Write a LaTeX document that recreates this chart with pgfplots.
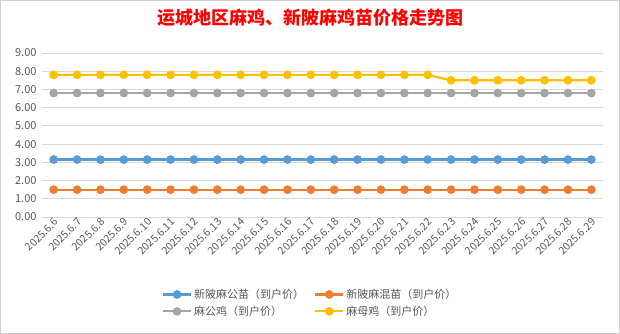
\documentclass[border=0pt]{standalone}
\usepackage{fontspec}
\usepackage{pgfplots}
\pgfplotsset{compat=1.18}
\setmainfont{Noto Sans CJK SC}
\definecolor{cblue}{HTML}{5B9BD5}
\definecolor{corange}{HTML}{ED7D31}
\definecolor{cgray}{HTML}{A5A5A5}
\definecolor{cyellow}{HTML}{FFC000}
\definecolor{gridc}{HTML}{D9D9D9}
\definecolor{textc}{HTML}{595959}
\begin{document}
\begin{tikzpicture}[x=1pt,y=1pt]
\useasboundingbox (0,0) rectangle (620,334);
\draw[fill=white, draw=gray!35] (0.5,0.5) rectangle (619.5,333.5);
\node[text=red, font=\fontsize{18}{20}\selectfont\bfseries] at (310,316) {运城地区麻鸡、新陂麻鸡苗价格走势图};
\begin{axis}[
  at={(42pt,117pt)}, anchor=south west,
  scale only axis, width=561pt, height=164pt,
  xmin=-0.5, xmax=23.5, ymin=0, ymax=9,
  ytick={0,1,...,9},
  xtick={0,1,...,23},
  xticklabels={2025.6.6,2025.6.7,2025.6.8,2025.6.9,2025.6.10,2025.6.11,2025.6.12,2025.6.13,2025.6.14,2025.6.15,2025.6.16,2025.6.17,2025.6.18,2025.6.19,2025.6.20,2025.6.21,2025.6.22,2025.6.23,2025.6.24,2025.6.25,2025.6.26,2025.6.27,2025.6.28,2025.6.29},
  axis line style={draw=none},
  major tick style={draw=none},
  ymajorgrids, grid style={color=gridc, line width=0.8pt},
  /pgf/number format/assume math mode=true,
  /pgf/number format/fixed,
  /pgf/number format/fixed zerofill,
  /pgf/number format/precision=2,
  yticklabel style={font=\fontsize{11}{12}\selectfont, text=textc, xshift=-2pt},
  xticklabel style={rotate=45, anchor=east, font=\fontsize{10.5}{12}\selectfont, text=textc, xshift=3pt, yshift=-4pt},
  every axis plot/.append style={line width=2.2pt, mark=*, mark size=3.2pt},
  legend columns=2,
  legend cell align=left,
  legend style={at={(0.478,-0.524)}, anchor=center, draw=none, fill=none,
    font=\fontsize{11}{12}\selectfont, text=textc,
    /tikz/every even column/.append style={column sep=8pt},
    row sep=2pt},
  legend image code/.code={\draw[#1, mark repeat=2, mark phase=2] plot coordinates {(0pt,0pt) (14pt,0pt) (28pt,0pt)};},
]
\addplot[color=cblue] coordinates {(0,3.15)(1,3.15)(2,3.15)(3,3.15)(4,3.15)(5,3.15)(6,3.15)(7,3.15)(8,3.15)(9,3.15)(10,3.15)(11,3.15)(12,3.15)(13,3.15)(14,3.15)(15,3.15)(16,3.15)(17,3.15)(18,3.15)(19,3.15)(20,3.15)(21,3.15)(22,3.15)(23,3.15)};
\addlegendentry{新陂麻公苗（到户价）}
\addplot[color=corange] coordinates {(0,1.5)(1,1.5)(2,1.5)(3,1.5)(4,1.5)(5,1.5)(6,1.5)(7,1.5)(8,1.5)(9,1.5)(10,1.5)(11,1.5)(12,1.5)(13,1.5)(14,1.5)(15,1.5)(16,1.5)(17,1.5)(18,1.5)(19,1.5)(20,1.5)(21,1.5)(22,1.5)(23,1.5)};
\addlegendentry{新陂麻混苗（到户价）}
\addplot[color=cgray] coordinates {(0,6.8)(1,6.8)(2,6.8)(3,6.8)(4,6.8)(5,6.8)(6,6.8)(7,6.8)(8,6.8)(9,6.8)(10,6.8)(11,6.8)(12,6.8)(13,6.8)(14,6.8)(15,6.8)(16,6.8)(17,6.8)(18,6.8)(19,6.8)(20,6.8)(21,6.8)(22,6.8)(23,6.8)};
\addlegendentry{麻公鸡（到户价）}
\addplot[color=cyellow] coordinates {(0,7.8)(1,7.8)(2,7.8)(3,7.8)(4,7.8)(5,7.8)(6,7.8)(7,7.8)(8,7.8)(9,7.8)(10,7.8)(11,7.8)(12,7.8)(13,7.8)(14,7.8)(15,7.8)(16,7.8)(17,7.5)(18,7.5)(19,7.5)(20,7.5)(21,7.5)(22,7.5)(23,7.5)};
\addlegendentry{麻母鸡（到户价）}
\end{axis}
\end{tikzpicture}
\end{document}
